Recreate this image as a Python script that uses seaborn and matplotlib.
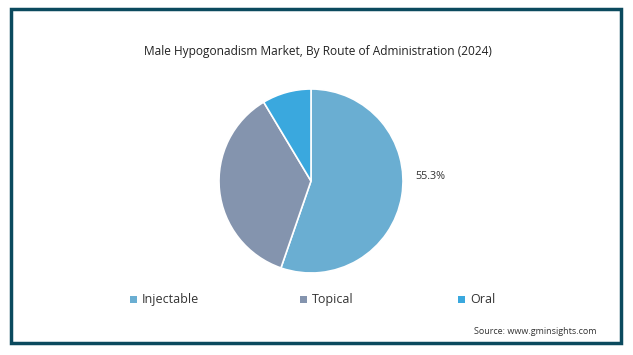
import matplotlib
matplotlib.use("Agg")
import matplotlib.pyplot as plt
import seaborn as sns
from matplotlib.patches import Rectangle

sns.set_theme(style="white")
plt.rcParams['font.family'] = ['Open Sans', 'DejaVu Sans']

categories = ["Injectable", "Topical", "Oral"]
shares = [55.3, 36.1, 8.6]
colors = ["#6aaed2", "#8494ae", "#3aa8de"]
title = "Male Hypogonadism Market, By Route of Administration (2024)"
source = "Source: www.gminsights.com"

fig = plt.figure(figsize=(6.33, 3.55), dpi=100)
fig.patch.set_facecolor("white")

# frame
fig.patches.append(Rectangle((11/633, 1 - 343/355), (621-11)/633, (343-9)/355,
                             transform=fig.transFigure, fill=False,
                             edgecolor="#0b4a5e", linewidth=2.5))

# pie axes: center (311,181), radius 92
r = 92
ax = fig.add_axes([(311 - r)/633, 1 - (181 + r)/355, 2*r/633, 2*r/355])
wedges, _ = ax.pie(shares, colors=colors, startangle=90, counterclock=False,
                   wedgeprops=dict(edgecolor="white", linewidth=1.2))
ax.set_xlim(-1, 1)
ax.set_ylim(-1, 1)
ax.set_aspect("equal")
ax.axis("off")

ax.text(1.135, 0.05, f"{shares[0]}%", ha="left", va="center", fontsize=7.8, color="#333333")

fig.text(318/633, 1 - 52/355, title, ha="center", va="center", fontsize=8.6, color="#222222")

handles = [Rectangle((0, 0), 1, 1, facecolor=c, edgecolor="none") for c in colors]
leg_x = [133, 303, 461]
for h, lab, x in zip(handles, categories, leg_x):
    fig.patches.append(Rectangle(((x - 3)/633, 1 - 303/355), 7/633, 7/355,
                                 transform=fig.transFigure, facecolor=h.get_facecolor(),
                                 edgecolor="none"))
    fig.text((x + 9)/633, 1 - 299.5/355, lab, ha="left", va="center", fontsize=9, color="#333333")

fig.text(597/633, 1 - 332/355, source, ha="right", va="center", fontsize=6.5, color="#333333")

fig.savefig("out.png", dpi=100)
